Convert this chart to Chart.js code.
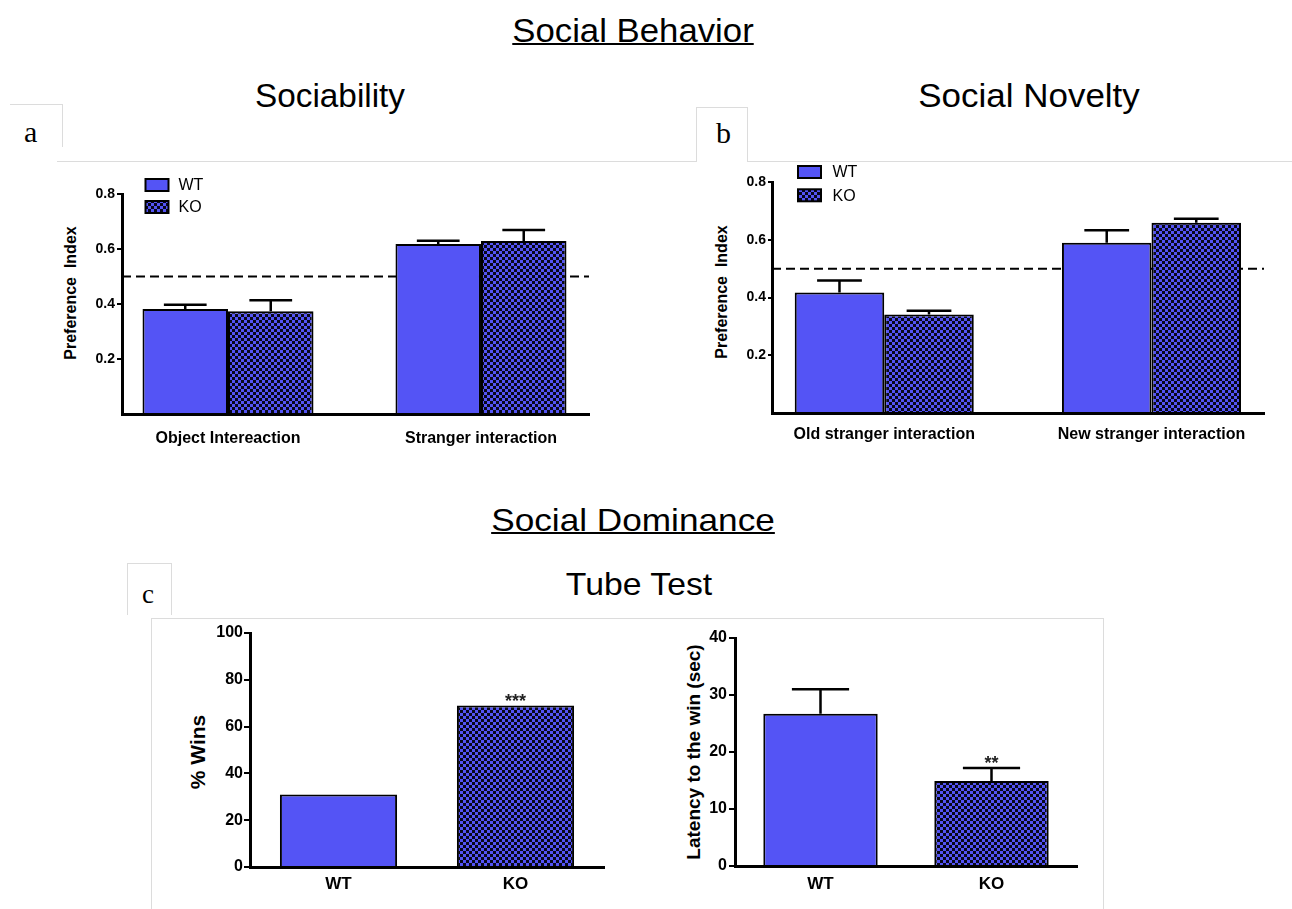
<!DOCTYPE html>
<html>
<head>
<meta charset="utf-8">
<script src="https://cdn.jsdelivr.net/npm/chart.js@4.4.1/dist/chart.umd.min.js"></script>
<style>
  html, body { margin: 0; padding: 0; background: #fff; }
  #page { position: relative; width: 1292px; height: 909px; overflow: hidden; background: #fff;
          font-family: "Liberation Sans", Arial, sans-serif; color: #000; }
  .t { position: absolute; white-space: pre; line-height: 1; }
  .head { transform-origin: center; }
  .letter { font-family: "Liberation Serif", "Times New Roman", serif; }
  .rule { position: absolute; background: #dcdcdc; }
  .ylab { position: absolute; white-space: pre; line-height: 1; font-weight: bold;
          transform: translate(-50%, -50%) rotate(-90deg); }
  canvas { position: absolute; }
</style>
</head>
<body>
<div id="page">
  <!-- light frames around the panels -->
  <div class="rule" style="left:10px;top:104px;width:53px;height:1px"></div>
  <div class="rule" style="left:62px;top:104px;width:1px;height:43px"></div>
  <div class="rule" style="left:57px;top:161px;width:640px;height:1px"></div>
  <div class="rule" style="left:696px;top:107px;width:52px;height:1px"></div>
  <div class="rule" style="left:696px;top:107px;width:1px;height:55px"></div>
  <div class="rule" style="left:747px;top:107px;width:1px;height:55px"></div>
  <div class="rule" style="left:747px;top:161px;width:545px;height:1px"></div>
  <div class="rule" style="left:127px;top:563px;width:45px;height:1px"></div>
  <div class="rule" style="left:127px;top:563px;width:1px;height:52px"></div>
  <div class="rule" style="left:171px;top:563px;width:1px;height:52px"></div>
  <div class="rule" style="left:151px;top:618px;width:953px;height:1px"></div>
  <div class="rule" style="left:151px;top:618px;width:1px;height:291px"></div>
  <div class="rule" style="left:1103px;top:618px;width:1px;height:291px"></div>

  <!-- headings -->
  <div class="t head" style="left:632.5px;top:13.8px;font-size:33px;transform:translateX(-50%) scaleX(1.053);text-decoration:underline;text-decoration-thickness:2px;">Social Behavior</div>
  <div class="t head" style="left:330px;top:79.4px;font-size:33px;transform:translateX(-50%) scaleX(1.01);">Sociability</div>
  <div class="t head" style="left:1029px;top:79.4px;font-size:33px;transform:translateX(-50%) scaleX(1.06);">Social Novelty</div>
  <div class="t head" style="left:633.3px;top:503.9px;font-size:32px;transform:translateX(-50%) scaleX(1.1);text-decoration:underline;text-decoration-thickness:2px;">Social Dominance</div>
  <div class="t head" style="left:639px;top:567.9px;font-size:32px;transform:translateX(-50%) scaleX(1.055);">Tube Test</div>

  <!-- panel letters -->
  <div class="t letter" style="left:24px;top:116.6px;font-size:30px;">a</div>
  <div class="t letter" style="left:716px;top:118.2px;font-size:30px;">b</div>
  <div class="t letter" style="left:142px;top:580.7px;font-size:27px;">c</div>

  <!-- axis titles -->
  <div class="ylab" style="left:71px;top:292.5px;font-size:16px;">Preference  Index</div>
  <div class="ylab" style="left:721.6px;top:292px;font-size:16px;">Preference  Index</div>
  <div class="ylab" style="left:197px;top:752px;font-size:21px;">% Wins</div>
  <div class="ylab" style="left:692.8px;top:752px;font-size:19px;">Latency to the win (sec)</div>

  <canvas id="chartA" width="580" height="290" style="left:40px;top:170px;width:580px;height:290px"></canvas>
  <canvas id="chartB" width="590" height="310" style="left:700px;top:150px;width:590px;height:310px"></canvas>
  <canvas id="chartC1" width="470" height="300" style="left:160px;top:605px;width:470px;height:300px"></canvas>
  <canvas id="chartC2" width="460" height="300" style="left:640px;top:605px;width:460px;height:300px"></canvas>
</div>

<script>
// ---- Sociability: preference index (mean, SEM) ----
const sociabilityCategories = ['Object Intereaction', 'Stranger interaction'];
const sociabilityWT = [0.382, 0.618];
const sociabilityWTsem = [0.015, 0.012];
const sociabilityKO = [0.374, 0.629];
const sociabilityKOsem = [0.040, 0.040];

// ---- Social novelty: preference index (mean, SEM) ----
const noveltyCategories = ['Old stranger interaction', 'New stranger interaction'];
const noveltyWT = [0.417, 0.590];
const noveltyWTsem = [0.042, 0.043];
const noveltyKO = [0.341, 0.659];
const noveltyKOsem = [0.013, 0.014];

const preferenceTicks = [0.2, 0.4, 0.6, 0.8];
const chanceLevel = 0.5;

// ---- Tube test ----
const genotypes = ['WT', 'KO'];
const winsPercent = [31, 69];
const winsStars = ['', '***'];
const winsTicks = [0, 20, 40, 60, 80, 100];

const latencySec = [26.7, 14.9];
const latencySem = [4.3, 2.3];
const latencyStars = ['', '**'];
const latencyTicks = [0, 10, 20, 30, 40];

const groupLabels = ['WT', 'KO'];

// ---- styling helpers ----
const FONT = '"Liberation Sans", Arial, sans-serif';
Chart.defaults.font.family = FONT;
Chart.defaults.color = '#000';

const WT_BLUE = '#5454F5';

function checkerPattern(fg, bg, cell) {
  const c = document.createElement('canvas');
  c.width = c.height = cell * 2;
  const g = c.getContext('2d');
  g.fillStyle = bg;
  g.fillRect(0, 0, cell * 2, cell * 2);
  g.fillStyle = fg;
  g.fillRect(0, 0, cell, cell);
  g.fillRect(cell, cell, cell, cell);
  return g.createPattern(c, 'repeat');
}
const KO_FILL = checkerPattern(WT_BLUE, '#08081c', 3);

const valueOf = d => (d !== null && typeof d === 'object') ? d.y : d;

// dashed chance line, drawn under the bars
const refLinePlugin = {
  id: 'refLine',
  beforeDatasetsDraw(chart, args, opts) {
    if (opts.value === undefined || opts.value === null) return;
    const {ctx, chartArea} = chart;
    const y = chart.scales.y.getPixelForValue(opts.value);
    ctx.save();
    ctx.strokeStyle = '#000';
    ctx.lineWidth = 2;
    ctx.setLineDash([9, 5]);
    ctx.beginPath();
    ctx.moveTo(chartArea.left, y);
    ctx.lineTo(chartArea.right, y);
    ctx.stroke();
    ctx.restore();
  }
};

// upper SEM whiskers and significance stars
const semPlugin = {
  id: 'semBars',
  afterDatasetsDraw(chart, args, opts) {
    const {ctx} = chart;
    const yScale = chart.scales.y;
    chart.data.datasets.forEach((ds, di) => {
      const meta = chart.getDatasetMeta(di);
      meta.data.forEach((bar, i) => {
        const v = valueOf(ds.data[i]);
        let top = bar.y;
        const err = ds.sem ? ds.sem[i] : 0;
        if (err) {
          top = yScale.getPixelForValue(v + err);
          const half = bar.width * 0.25;
          ctx.save();
          ctx.strokeStyle = '#000';
          ctx.lineWidth = 2.5;
          ctx.beginPath();
          ctx.moveTo(bar.x, bar.y);
          ctx.lineTo(bar.x, top);
          ctx.moveTo(bar.x - half, top);
          ctx.lineTo(bar.x + half, top);
          ctx.stroke();
          ctx.restore();
        }
        const star = ds.stars ? ds.stars[i] : '';
        if (star) {
          ctx.save();
          ctx.fillStyle = '#222';
          ctx.font = 'bold 18px ' + FONT;
          ctx.textAlign = 'center';
          ctx.textBaseline = 'alphabetic';
          ctx.fillText(star, bar.x, top + 1);
          ctx.restore();
        }
      });
    });
  }
};

// small boxed legend placed inside the plot
const boxLegendPlugin = {
  id: 'boxLegend',
  afterDraw(chart, args, opts) {
    if (!opts.show) return;
    const {ctx, chartArea} = chart;
    ctx.save();
    ctx.font = '16px ' + FONT;
    ctx.textBaseline = 'middle';
    ctx.textAlign = 'left';
    chart.data.datasets.forEach((ds, i) => {
      const x = chartArea.left + opts.dx;
      const y = chartArea.top + opts.dy + i * opts.rowGap;
      ctx.fillStyle = ds.backgroundColor;
      ctx.fillRect(x, y, opts.boxW, opts.boxH);
      ctx.lineWidth = 2;
      ctx.strokeStyle = '#000';
      ctx.strokeRect(x, y, opts.boxW, opts.boxH);
      ctx.fillStyle = '#000';
      ctx.fillText(ds.label, x + opts.textDx, y + opts.boxH / 2 + 1);
    });
    ctx.restore();
  }
};

function yScaleOptions(o) {
  return {
    min: 0,
    max: o.ticks[o.ticks.length - 1],
    afterBuildTicks: s => { s.ticks = o.ticks.map(v => ({value: v})); },
    afterFit: s => { s.width = o.width; },
    grid: {display: true, drawOnChartArea: false, drawTicks: true, tickLength: o.tickLen,
           color: '#000', lineWidth: 2},
    border: {display: true, color: '#000', width: 3, z: 1},
    ticks: {padding: o.pad, color: '#000', font: {size: o.fontSize, weight: 'bold'},
            callback: o.format}
  };
}

// Panels a and b: two groups of WT/KO bars on a numeric index axis
function preferenceChart(id, cats, wt, wtSem, ko, koSem, L) {
  return new Chart(document.getElementById(id), {
    type: 'bar',
    data: {
      datasets: [
        {label: groupLabels[0], data: cats.map((c, i) => ({x: i, y: wt[i]})), sem: wtSem,
         backgroundColor: WT_BLUE, borderColor: '#000', borderWidth: 2, borderSkipped: 'start'},
        {label: groupLabels[1], data: cats.map((c, i) => ({x: i, y: ko[i]})), sem: koSem,
         backgroundColor: KO_FILL, borderColor: '#000', borderWidth: 2, borderSkipped: 'start'}
      ]
    },
    options: {
      responsive: false, animation: false, events: [],
      layout: {padding: {left: 0, top: L.padTop, right: L.padRight, bottom: 0}},
      datasets: {bar: {categoryPercentage: L.catPct, barPercentage: 1}},
      plugins: {
        legend: {display: false}, tooltip: {enabled: false},
        refLine: {value: chanceLevel},
        boxLegend: {show: true, dx: L.legDx, dy: L.legDy, rowGap: L.legGap, boxW: 23, boxH: 12, textDx: L.legText}
      },
      scales: {
        x: {
          type: 'linear', min: L.xMin, max: L.xMax, offset: false,
          afterBuildTicks: s => { s.ticks = cats.map((c, i) => ({value: i})); },
          afterFit: s => { s.height = L.xHeight; },
          grid: {display: false, drawTicks: false, offset: false},
          border: {display: true, color: '#000', width: 3, z: 1},
          ticks: {padding: L.xPad, autoSkip: false, maxRotation: 0, minRotation: 0,
                  font: {size: 16, weight: 'bold'}, color: '#000',
                  callback: v => cats[v]}
        },
        y: yScaleOptions({ticks: preferenceTicks, width: L.yWidth, tickLen: L.tickLen, pad: 2,
                          fontSize: 14, format: v => v.toFixed(1)})
      }
    },
    plugins: [refLinePlugin, semPlugin, boxLegendPlugin]
  });
}

preferenceChart('chartA', sociabilityCategories, sociabilityWT, sociabilityWTsem, sociabilityKO, sociabilityKOsem,
  {padTop: 24, padRight: 31, yWidth: 82, xHeight: 46, xPad: 15, tickLen: 5,
   xMin: -0.419, xMax: 1.427, catPct: 0.676,
   legDx: 23.5, legDy: -15, legGap: 22, legText: 33});

preferenceChart('chartB', noveltyCategories, noveltyWT, noveltyWTsem, noveltyKO, noveltyKOsem,
  {padTop: 32, padRight: 26, yWidth: 72, xHeight: 47, xPad: 11.5, tickLen: 4,
   xMin: -0.420, xMax: 1.421, catPct: 0.670,
   legDx: 26, legDy: -16, legGap: 23.3, legText: 34.5});

// Panel c: tube test, one bar per genotype
function tubeChart(id, values, sem, stars, ticks, L) {
  return new Chart(document.getElementById(id), {
    type: 'bar',
    data: {
      labels: genotypes,
      datasets: [{
        label: id, data: values, sem: sem, stars: stars,
        backgroundColor: [WT_BLUE, KO_FILL], borderColor: '#000', borderWidth: 2, borderSkipped: 'start',
        categoryPercentage: 1, barPercentage: L.barPct
      }]
    },
    options: {
      responsive: false, animation: false, events: [],
      layout: {padding: {left: 0, top: L.padTop, right: L.padRight, bottom: 0}},
      plugins: {legend: {display: false}, tooltip: {enabled: false}},
      scales: {
        x: {
          type: 'category', offset: true,
          afterFit: s => { s.height = L.xHeight; },
          grid: {display: false, drawTicks: false},
          border: {display: true, color: '#000', width: 3, z: 1},
          ticks: {padding: L.xPad, font: {size: 17, weight: 'bold'}, color: '#000', maxRotation: 0}
        },
        y: yScaleOptions({ticks: ticks, width: L.yWidth, tickLen: 6, pad: L.yPad,
                          fontSize: 16, format: v => String(v)})
      }
    },
    plugins: [semPlugin]
  });
}

tubeChart('chartC1', winsPercent, null, winsStars, winsTicks,
  {padTop: 28, padRight: 26, yWidth: 90, xHeight: 38, xPad: 7.2, yPad: 1, barPct: 0.662});

tubeChart('chartC2', latencySec, latencySem, latencyStars, latencyTicks,
  {padTop: 33, padRight: 23, yWidth: 95, xHeight: 39, xPad: 8.6, yPad: 2, barPct: 0.669});
</script>
</body>
</html>
